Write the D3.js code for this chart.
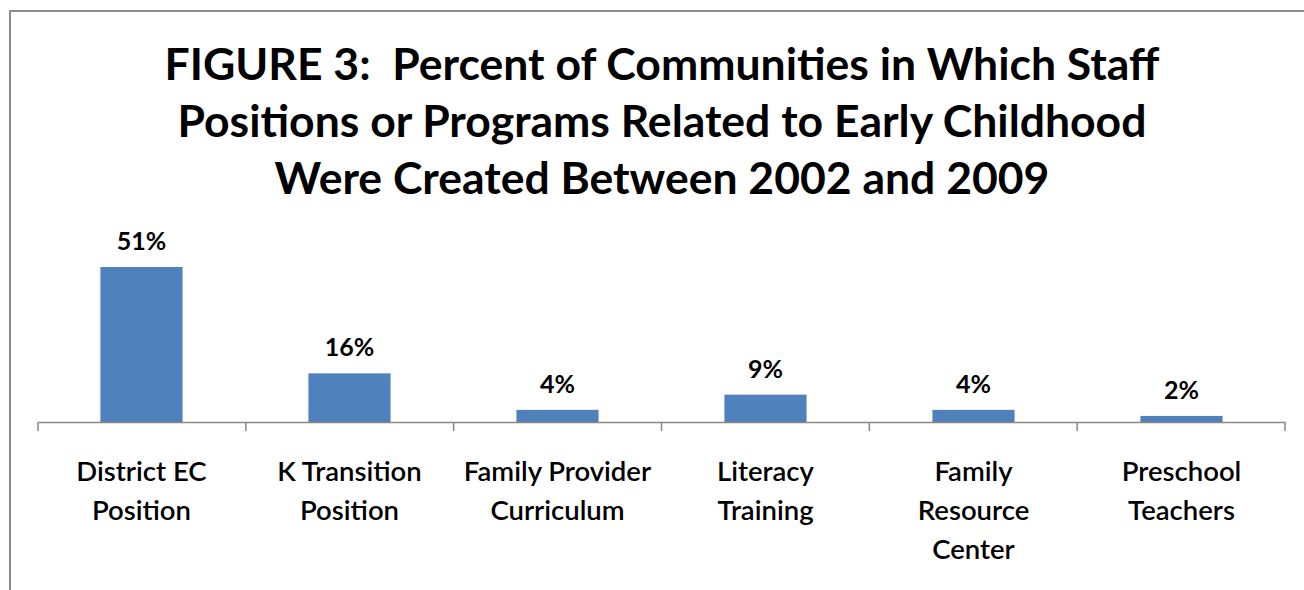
<!DOCTYPE html>
<html>
<head>
<meta charset="utf-8">
<script src="https://cdn.jsdelivr.net/npm/d3@7"></script>
<style>
  body { margin: 0; background: #fff; }
  svg { display: block; }
  text { font-family: Lato, "Open Sans", sans-serif; fill: #000; white-space: pre; }
</style>
</head>
<body>
<div id="chart"></div>
<script>
var categories = [
  ["District EC", "Position"],
  ["K Transition", "Position"],
  ["Family Provider", "Curriculum"],
  ["Literacy", "Training"],
  ["Family", "Resource", "Center"],
  ["Preschool", "Teachers"]
];
var values = [51, 16, 4, 9, 4, 2];
var valueLabels = ["51%", "16%", "4%", "9%", "4%", "2%"];
var titleLines = [
  "FIGURE 3:  Percent of Communities in Which Staff",
  "Positions or Programs Related to Early Childhood",
  "Were Created Between 2002 and 2009"
];

var W = 1304, H = 590;
var svg = d3.select("#chart").append("svg")
  .attr("width", W)
  .attr("height", H);

// outer frame
svg.append("rect")
  .attr("x", 10).attr("y", 11)
  .attr("width", 1310).attr("height", 600)
  .attr("fill", "none")
  .attr("stroke", "#8c8c8c")
  .attr("stroke-width", 2);

// title
svg.append("g").selectAll("text")
  .data(titleLines)
.enter().append("text")
  .attr("x", 662)
  .attr("y", function(d, i) { return 80 + i * 57; })
  .attr("text-anchor", "middle")
  .attr("font-size", 44.5)
  .attr("font-weight", "bold")
  .text(function(d) { return d; });

var x = d3.scaleBand()
  .domain(d3.range(categories.length))
  .range([38, 1285])
  .paddingInner(0.605)
  .paddingOuter(0.3);

var y = d3.scaleLinear()
  .domain([0, 51])
  .range([422, 267]);

// bars
svg.append("g").selectAll("rect")
  .data(values)
.enter().append("rect")
  .attr("x", function(d, i) { return x(i); })
  .attr("y", function(d) { return y(d); })
  .attr("width", x.bandwidth())
  .attr("height", function(d) { return y(0) - y(d); })
  .attr("fill", "#4f81bd");

// value labels
svg.append("g").selectAll("text")
  .data(values)
.enter().append("text")
  .attr("x", function(d, i) { return x(i) + x.bandwidth() / 2; })
  .attr("y", function(d) { return y(d) - 17; })
  .attr("text-anchor", "middle")
  .attr("font-size", 25)
  .attr("font-weight", "bold")
  .text(function(d, i) { return valueLabels[i]; });

// category axis
var cat = d3.scalePoint()
  .domain(d3.range(categories.length + 1))
  .range([38, 1285]);

var axis = svg.append("g");
axis.append("line")
  .attr("x1", 38).attr("x2", 1285)
  .attr("y1", 422.5).attr("y2", 422.5)
  .attr("stroke", "#888").attr("stroke-width", 1.5);
axis.selectAll("line.tick")
  .data(cat.domain())
.enter().append("line")
  .attr("class", "tick")
  .attr("x1", function(d) { return cat(d); })
  .attr("x2", function(d) { return cat(d); })
  .attr("y1", 422).attr("y2", 431)
  .attr("stroke", "#888").attr("stroke-width", 1.5);

var labels = svg.append("g").selectAll("text")
  .data(categories)
.enter().append("text")
  .attr("text-anchor", "middle")
  .attr("font-size", 27.5)
  .attr("font-weight", 600);
labels.selectAll("tspan")
  .data(function(d, i) { return d.map(function(s) { return { s: s, i: i }; }); })
.enter().append("tspan")
  .attr("x", function(d) { return x(d.i) + x.bandwidth() / 2; })
  .attr("y", function(d, j) { return 481 + j * 39; })
  .text(function(d) { return d.s; });
</script>
</body>
</html>
